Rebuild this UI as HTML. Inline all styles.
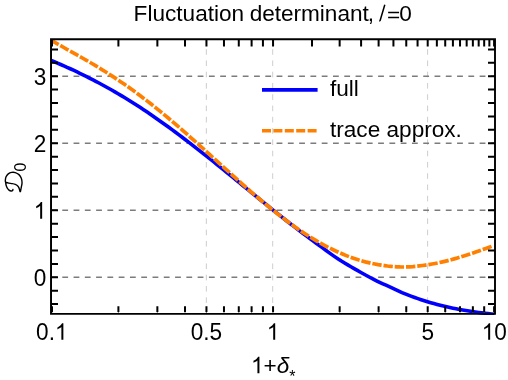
<!DOCTYPE html>
<html><head><meta charset="utf-8"><title>Fluctuation determinant</title>
<style>html,body{margin:0;padding:0;background:#fff;}body{width:508px;height:380px;overflow:hidden;position:relative;font-family:"Liberation Sans",sans-serif;}</style></head>
<body>
<svg width="508" height="380" viewBox="0 0 508 380" style="position:absolute;left:0;top:0">
<rect width="508" height="380" fill="#fff"/>
<line x1="206.35" x2="206.35" y1="314.2" y2="39.2" stroke="#c0c0c0" stroke-width="0.8" stroke-dasharray="5.6 5.68"/>
<line x1="272.70" x2="272.70" y1="314.2" y2="39.2" stroke="#c0c0c0" stroke-width="0.8" stroke-dasharray="5.6 5.68"/>
<line x1="427.60" x2="427.60" y1="314.2" y2="39.2" stroke="#c0c0c0" stroke-width="0.8" stroke-dasharray="5.6 5.68"/>
<line x1="51.0" x2="495.0" y1="277.30" y2="277.30" stroke="#7c7c7c" stroke-width="1.4" stroke-dasharray="5.8 5.48"/>
<line x1="51.0" x2="495.0" y1="210.27" y2="210.27" stroke="#7c7c7c" stroke-width="1.4" stroke-dasharray="5.8 5.48"/>
<line x1="51.0" x2="495.0" y1="143.24" y2="143.24" stroke="#7c7c7c" stroke-width="1.4" stroke-dasharray="5.8 5.48"/>
<line x1="51.0" x2="495.0" y1="76.21" y2="76.21" stroke="#7c7c7c" stroke-width="1.4" stroke-dasharray="5.8 5.48"/>
<clipPath id="c"><rect x="51.0" y="39.2" width="444.0" height="275.85"/></clipPath>
<g clip-path="url(#c)" fill="none">
<path d="M51.10,60.49 L54.29,61.79 L57.48,63.12 L60.67,64.48 L63.86,65.87 L67.05,67.29 L70.24,68.74 L73.43,70.22 L76.62,71.73 L79.81,73.27 L83.00,74.83 L86.19,76.42 L89.38,78.03 L92.57,79.67 L95.76,81.33 L98.95,83.02 L102.14,84.73 L105.33,86.47 L108.52,88.23 L111.71,90.03 L114.90,91.85 L118.09,93.71 L121.28,95.60 L124.47,97.52 L127.66,99.48 L130.85,101.46 L134.04,103.48 L137.23,105.53 L140.42,107.61 L143.61,109.72 L146.80,111.86 L149.99,114.02 L153.18,116.21 L156.37,118.43 L159.56,120.68 L162.75,122.94 L165.94,125.24 L169.13,127.55 L172.32,129.89 L175.51,132.25 L178.70,134.63 L181.89,137.03 L185.08,139.45 L188.27,141.88 L191.46,144.34 L194.65,146.81 L197.84,149.30 L201.03,151.80 L204.22,154.32 L207.41,156.85 L210.60,159.39 L213.79,161.94 L216.98,164.51 L220.17,167.08 L223.36,169.66 L226.55,172.25 L229.74,174.84 L232.93,177.44 L236.12,180.04 L239.31,182.64 L242.50,185.25 L245.69,187.85 L248.88,190.46 L252.07,193.06 L255.26,195.66 L258.45,198.25 L261.64,200.84 L264.83,203.43 L268.02,206.00 L271.21,208.57 L274.39,211.13 L277.58,213.67 L280.77,216.20 L283.96,218.72 L287.15,221.23 L290.34,223.71 L293.53,226.18 L296.72,228.64 L299.91,231.07 L303.10,233.48 L306.29,235.88 L309.48,238.25 L312.67,240.61 L315.86,242.96 L319.05,245.30 L322.24,247.65 L325.43,250.01 L328.62,252.35 L331.81,254.65 L335.00,256.89 L338.19,259.04 L341.38,261.08 L344.57,263.02 L347.76,264.90 L350.95,266.75 L354.14,268.57 L357.33,270.39 L360.52,272.21 L363.71,274.00 L366.90,275.77 L370.09,277.51 L373.28,279.19 L376.47,280.80 L379.66,282.33 L382.85,283.79 L386.04,285.20 L389.23,286.62 L392.42,288.10 L395.61,289.62 L398.80,291.12 L401.99,292.56 L405.18,293.91 L408.37,295.18 L411.56,296.38 L414.75,297.54 L417.94,298.65 L421.13,299.71 L424.32,300.74 L427.51,301.72 L430.70,302.66 L433.89,303.56 L437.08,304.42 L440.27,305.24 L443.46,306.02 L446.65,306.77 L449.84,307.48 L453.03,308.15 L456.22,308.79 L459.41,309.40 L462.60,309.98 L465.79,310.52 L468.98,311.04 L472.17,311.53 L475.36,312.00 L478.55,312.44 L481.74,312.87 L484.93,313.27 L488.12,313.66 L491.31,314.04 L494.50,314.41" stroke="#0000fc" stroke-width="3.6"/>
<path d="M51.10,40.29 L54.27,42.11 L57.45,43.91 L60.62,45.70 L63.80,47.49 L66.97,49.26 L70.14,51.04 L73.32,52.83 L76.49,54.61 L79.67,56.41 L82.84,58.23 L86.02,60.06 L89.19,61.91 L92.36,63.78 L95.54,65.68 L98.71,67.60 L101.89,69.55 L105.06,71.53 L108.23,73.54 L111.41,75.59 L114.58,77.66 L117.76,79.77 L120.93,81.92 L124.10,84.10 L127.28,86.31 L130.45,88.56 L133.63,90.85 L136.80,93.18 L139.97,95.54 L143.15,97.93 L146.32,100.36 L149.50,102.82 L152.67,105.32 L155.85,107.85 L159.02,110.41 L162.19,113.01 L165.37,115.63 L168.54,118.28 L171.72,120.96 L174.89,123.67 L178.06,126.40 L181.24,129.15 L184.41,131.92 L187.59,134.72 L190.76,137.53 L193.93,140.36 L197.11,143.20 L200.28,146.06 L203.46,148.92 L206.63,151.80 L209.81,154.68 L212.98,157.56 L216.15,160.45 L219.33,163.34 L222.50,166.23 L225.68,169.11 L228.85,171.99 L232.02,174.86 L235.20,177.72 L238.37,180.56 L241.55,183.39 L244.72,186.21 L247.89,189.00 L251.07,191.78 L254.24,194.53 L257.42,197.25 L260.59,199.95 L263.76,202.62 L266.94,205.26 L270.11,207.86 L273.29,210.43 L276.46,212.96 L279.64,215.45 L282.81,217.90 L285.98,220.30 L289.16,222.66 L292.33,224.97 L295.51,227.23 L298.68,229.45 L301.85,231.61 L305.03,233.71 L308.20,235.76 L311.38,237.76 L314.55,239.69 L317.72,241.57 L320.90,243.39 L324.07,245.14 L327.25,246.83 L330.42,248.46 L333.59,250.02 L336.77,251.51 L339.94,252.94 L343.12,254.30 L346.29,255.59 L349.47,256.81 L352.64,257.96 L355.81,259.04 L358.99,260.05 L362.16,260.98 L365.34,261.85 L368.51,262.64 L371.68,263.37 L374.86,264.02 L378.03,264.61 L381.21,265.12 L384.38,265.58 L387.55,265.98 L390.73,266.31 L393.90,266.59 L397.08,266.81 L400.25,266.95 L403.43,267.00 L406.60,266.95 L409.77,266.81 L412.95,266.59 L416.12,266.29 L419.30,265.94 L422.47,265.53 L425.64,265.08 L428.82,264.59 L431.99,264.04 L435.17,263.45 L438.34,262.81 L441.51,262.12 L444.69,261.38 L447.86,260.59 L451.04,259.76 L454.21,258.89 L457.38,257.98 L460.56,257.03 L463.73,256.04 L466.91,255.03 L470.08,253.99 L473.26,252.92 L476.43,251.82 L479.60,250.71 L482.78,249.58 L485.95,248.43 L489.13,247.28 L492.30,246.11" stroke="#ff8000" stroke-width="3.7" stroke-dasharray="9.4 1.885" stroke-dashoffset="0.73"/>
</g>
<path d="M52.00,311.95000000000005 V306.35 M118.40,311.95000000000005 V306.35 M157.36,311.95000000000005 V306.35 M185.01,311.95000000000005 V306.35 M206.45,311.95000000000005 V306.35 M223.97,311.95000000000005 V306.35 M238.78,311.95000000000005 V306.35 M251.61,311.95000000000005 V306.35 M262.93,311.95000000000005 V306.35 M273.05,311.95000000000005 V306.35 M339.65,311.95000000000005 V306.35 M378.61,311.95000000000005 V306.35 M406.26,311.95000000000005 V306.35 M427.70,311.95000000000005 V306.35 M445.22,311.95000000000005 V306.35 M460.03,311.95000000000005 V306.35 M472.86,311.95000000000005 V306.35 M484.18,311.95000000000005 V306.35 M494.10,311.95000000000005 V306.35 M52.00,39.2 v7.4 M118.40,39.2 v7.4 M157.36,39.2 v7.4 M185.01,39.2 v7.4 M206.45,39.2 v7.4 M223.97,39.2 v7.4 M238.78,39.2 v7.4 M251.61,39.2 v7.4 M262.93,39.2 v7.4 M273.05,39.2 v7.4 M339.65,39.2 v7.4 M378.61,39.2 v7.4 M406.26,39.2 v7.4 M427.70,39.2 v7.4 M445.22,39.2 v7.4 M460.03,39.2 v7.4 M472.86,39.2 v7.4 M484.18,39.2 v7.4 M494.10,39.2 v7.4 M312.01,39.2 v7.4 M361.09,39.2 v7.4 M393.43,39.2 v7.4 M417.57,39.2 v7.4 M436.86,39.2 v7.4 M452.91,39.2 v7.4 M466.66,39.2 v7.4 M478.68,39.2 v7.4 M489.37,39.2 v7.4 M51.0,304.11 h7.0 M495.0,304.11 h-7.0 M51.0,290.71 h7.0 M495.0,290.71 h-7.0 M51.0,277.30 h7.0 M495.0,277.30 h-7.0 M51.0,263.89 h7.0 M495.0,263.89 h-7.0 M51.0,250.49 h7.0 M495.0,250.49 h-7.0 M51.0,237.08 h7.0 M495.0,237.08 h-7.0 M51.0,223.68 h7.0 M495.0,223.68 h-7.0 M51.0,210.27 h7.0 M495.0,210.27 h-7.0 M51.0,196.86 h7.0 M495.0,196.86 h-7.0 M51.0,183.46 h7.0 M495.0,183.46 h-7.0 M51.0,170.05 h7.0 M495.0,170.05 h-7.0 M51.0,156.65 h7.0 M495.0,156.65 h-7.0 M51.0,143.24 h7.0 M495.0,143.24 h-7.0 M51.0,129.83 h7.0 M495.0,129.83 h-7.0 M51.0,116.43 h7.0 M495.0,116.43 h-7.0 M51.0,103.02 h7.0 M495.0,103.02 h-7.0 M51.0,89.62 h7.0 M495.0,89.62 h-7.0 M51.0,76.21 h7.0 M495.0,76.21 h-7.0 M51.0,62.80 h7.0 M495.0,62.80 h-7.0 M51.0,49.40 h7.0 M495.0,49.40 h-7.0" stroke="#000" stroke-width="2.0" fill="none"/>
<path d="M52.00,313.85 v-2 M118.40,313.85 v-2 M157.36,313.85 v-2 M185.01,313.85 v-2 M206.45,313.85 v-2 M223.97,313.85 v-2 M238.78,313.85 v-2 M251.61,313.85 v-2 M262.93,313.85 v-2 M273.05,313.85 v-2 M339.65,313.85 v-2 M378.61,313.85 v-2 M406.26,313.85 v-2 M427.70,313.85 v-2 M445.22,313.85 v-2 M460.03,313.85 v-2 M472.86,313.85 v-2 M484.18,313.85 v-2 M494.10,313.85 v-2" stroke="#555" stroke-width="0.7" fill="none"/>
<path d="M50.05,38.35H495.95V314.65H50.05Z M52,40.15V313.1H494.05V40.15Z" fill="#000" fill-rule="evenodd"/>
<line x1="262" x2="317.6" y1="89.9" y2="89.9" stroke="#0000fc" stroke-width="3.6"/>
<line x1="262" x2="317.6" y1="130.8" y2="130.8" stroke="#ff8000" stroke-width="3.6" stroke-dasharray="9 2.4"/>
<g font-family="Liberation Sans, sans-serif" font-size="22.6" fill="#000" style="filter:grayscale(1)">
<text transform="translate(133.60,21.20) scale(1,1.0)" >Fluctuation</text>
<text transform="translate(249.70,21.20) scale(1,1.0)" letter-spacing="-0.03">deter</text>
<text transform="translate(300.90,21.20) scale(1,1.0)" letter-spacing="0.03">minant</text>
<text transform="translate(367.80,21.20) scale(1,1.03)" >,</text>
<text transform="translate(387.00,22.30) scale(1,0.9)" >=</text>
<text transform="translate(399.20,21.20) scale(1,1.0)" >0</text>
<text transform="translate(36.09,339.85) scale(1,1.03)" >0.</text>
<path transform="translate(54.94,339.85) scale(0.01104,-0.01126)" d="M763,0 L583,0 L583,1147 Q518,1085 412.5,1023 Q307,961 223,930 L223,1104 Q374,1175 487,1276 Q600,1377 647,1472 L763,1472 Z" fill="#000"/>
<text transform="translate(190.74,339.85) scale(1,1.03)" >0.5</text>
<path transform="translate(266.77,339.85) scale(0.01104,-0.01126)" d="M763,0 L583,0 L583,1147 Q518,1085 412.5,1023 Q307,961 223,930 L223,1104 Q374,1175 487,1276 Q600,1377 647,1472 L763,1472 Z" fill="#000"/>
<text transform="translate(421.41,339.85) scale(1,1.03)" >5</text>
<path transform="translate(481.73,339.85) scale(0.01104,-0.01126)" d="M763,0 L583,0 L583,1147 Q518,1085 412.5,1023 Q307,961 223,930 L223,1104 Q374,1175 487,1276 Q600,1377 647,1472 L763,1472 Z" fill="#000"/>
<text transform="translate(494.30,339.85) scale(1,1.03)" >0</text>
<text transform="translate(33.73,286.30) scale(1,1.03)" >0</text>
<text transform="translate(33.73,152.24) scale(1,1.03)" >2</text>
<text transform="translate(33.73,85.21) scale(1,1.03)" >3</text>
<path transform="translate(33.73,218.67) scale(0.01104,-0.01126)" d="M763,0 L583,0 L583,1147 Q518,1085 412.5,1023 Q307,961 223,930 L223,1104 Q374,1175 487,1276 Q600,1377 647,1472 L763,1472 Z" fill="#000"/>
<text transform="translate(330.00,95.60) scale(1,0.985)" >full</text>
<text transform="translate(330.00,136.80) scale(1,0.985)" >trace approx.</text>
<path transform="translate(251.00,373.30) scale(0.01104,-0.01126)" d="M763,0 L583,0 L583,1147 Q518,1085 412.5,1023 Q307,961 223,930 L223,1104 Q374,1175 487,1276 Q600,1377 647,1472 L763,1472 Z" fill="#000"/>
<text transform="translate(263.57,373.30) scale(1,1.0)" >+<tspan font-style="italic">δ</tspan></text>
<text transform="translate(289.30,382.20) scale(1,1.03)" font-size="16">*</text>
<text transform="translate(25.80,171.40) rotate(-90) scale(1,1.03)" font-size="16">0</text>
</g>
<path d="M384.8,4.8 L380.2,20.3 Q380.0,21.0 379.2,20.8" stroke="#000" stroke-width="1.5" fill="none" stroke-linecap="butt"/>
<path d="M20.42,191.58 C20.57,190.84 21.04,188.63 21.31,187.16 C21.58,185.69 22.04,184.21 22.04,182.74 C22.04,181.27 21.82,179.67 21.31,178.32 C20.79,176.97 19.96,175.59 18.95,174.63 C17.94,173.67 16.49,172.94 15.26,172.57 C14.03,172.20 12.75,172.20 11.58,172.42 C10.41,172.64 9.18,173.16 8.26,173.90 C7.34,174.64 6.54,175.74 6.05,176.84 C5.56,177.94 5.38,179.55 5.32,180.53 C5.26,181.51 5.56,182.00 5.68,182.74 C5.80,183.48 5.80,184.09 6.05,184.95 C6.30,185.81 6.67,187.04 7.16,187.90 C7.65,188.76 8.32,189.58 9.00,190.10 C9.68,190.62 10.60,190.94 11.21,191.00 C11.83,191.06 12.41,190.75 12.69,190.48 C12.97,190.21 12.87,189.56 12.90,189.37 M5.68,182.37 C6.17,182.49 7.52,182.89 8.63,183.10 C9.74,183.31 11.21,183.41 12.32,183.62 C13.43,183.83 14.40,184.02 15.26,184.36 C16.12,184.71 16.87,185.10 17.48,185.69 C18.09,186.28 18.52,186.92 18.95,187.90 C19.38,188.88 19.87,190.97 20.05,191.58" fill="none" stroke="#000" stroke-width="1.4" stroke-linecap="round" stroke-linejoin="round"/>
</svg>
</body></html>
